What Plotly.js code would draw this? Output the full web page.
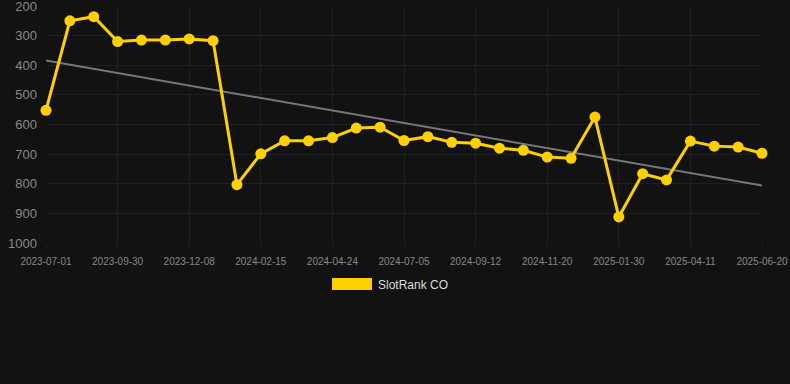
<!DOCTYPE html>
<html>
<head>
<meta charset="utf-8">
<script src="https://cdn.plot.ly/plotly-3.0.1.min.js"></script>
<style>
html,body{margin:0;padding:0;background:#121212;}
#chart{width:790px;height:384px;}
</style>
</head>
<body>
<div id="chart"></div>
<script>
// Dates of the samples (category axis); every third one is labelled
const dates = [
  "2023-07-01","2023-07-31","2023-08-31","2023-09-30","2023-10-23","2023-11-15",
  "2023-12-08","2023-12-31","2024-01-23","2024-02-15","2024-03-09","2024-04-01",
  "2024-04-24","2024-05-18","2024-06-11","2024-07-05","2024-07-28","2024-08-20",
  "2024-09-12","2024-10-05","2024-10-28","2024-11-20","2024-12-14","2025-01-06",
  "2025-01-30","2025-02-23","2025-03-18","2025-04-11","2025-05-04","2025-05-27",
  "2025-06-20"
];
const rankCO = [
  552, 250, 236, 320, 315, 315, 311, 317, 803, 699,
  655, 655, 644, 612, 609, 654, 641, 660, 663, 680,
  687, 710, 714, 575, 912, 766, 787, 656, 673, 676,
  697
];
const tickLabels = [
  "2023-07-01","2023-09-30","2023-12-08","2024-02-15","2024-04-24","2024-07-05",
  "2024-09-12","2024-11-20","2025-01-30","2025-04-11","2025-06-20"
];
const yTicks = [200, 300, 400, 500, 600, 700, 800, 900, 1000];
const seriesName = "SlotRank CO";

// least-squares trend over the sample index
const n = rankCO.length;
const xi = rankCO.map((_, i) => i);
const mx = xi.reduce((a, b) => a + b, 0) / n;
const my = rankCO.reduce((a, b) => a + b, 0) / n;
let sxy = 0, sxx = 0;
for (let i = 0; i < n; i++) { sxy += (xi[i] - mx) * (rankCO[i] - my); sxx += (xi[i] - mx) ** 2; }
const slope = sxy / sxx, icpt = my - slope * mx;
const trend = xi.map(i => icpt + slope * i);

const traces = [
  {
    x: dates, y: trend, type: "scatter", mode: "lines",
    line: {color: "#777777", width: 2}, hoverinfo: "skip", showlegend: false
  },
  {
    x: dates, y: rankCO, type: "scatter", mode: "lines+markers", name: seriesName,
    line: {color: "#FFD000", width: 3},
    marker: {color: "#FFD000", size: 11},
    cliponaxis: false, showlegend: false
  }
];

const layout = {
  width: 790, height: 384,
  paper_bgcolor: "#121212", plot_bgcolor: "#121212",
  margin: {l: 46, r: 28, t: 6, b: 141},
  font: {family: "Liberation Sans, Arial, sans-serif", color: "#888888"},
  showlegend: false,
  xaxis: {
    type: "category", range: [0, n - 1],
    tickmode: "array", tickvals: tickLabels, ticktext: tickLabels,
    tickfont: {size: 10, color: "#888888"},
    showgrid: true, gridcolor: "#1f1f1f", gridwidth: 1,
    zeroline: false, showline: false,
    ticks: "outside", ticklen: 5, tickcolor: "#1f1f1f", tickwidth: 1,
    ticklabelstandoff: 4, ticklabeloverflow: "allow",
    fixedrange: true
  },
  yaxis: {
    range: [1000, 200], tickmode: "array", tickvals: yTicks,
    tickfont: {size: 13, color: "#888888"},
    showgrid: true, gridcolor: "#1f1f1f", gridwidth: 1,
    zeroline: false, showline: false, ticks: "", ticklabelstandoff: 8,
    ticklabeloverflow: "allow",
    fixedrange: true
  },
  shapes: [{
    type: "rect", xref: "paper", yref: "paper",
    x0: (332 - 46) / 716, x1: (372 - 46) / 716,
    y0: (243 - 290) / 237, y1: (243 - 278) / 237,
    fillcolor: "#FFD000", line: {width: 0}
  }],
  annotations: [{
    xref: "paper", yref: "paper",
    x: (376 - 46) / 716, y: (243 - 284.5) / 237,
    xanchor: "left", yanchor: "middle", showarrow: false,
    text: seriesName, font: {size: 12, color: "#dddddd"}
  }]
};

Plotly.newPlot("chart", traces, layout, {displayModeBar: false, staticPlot: true});
</script>
</body>
</html>
